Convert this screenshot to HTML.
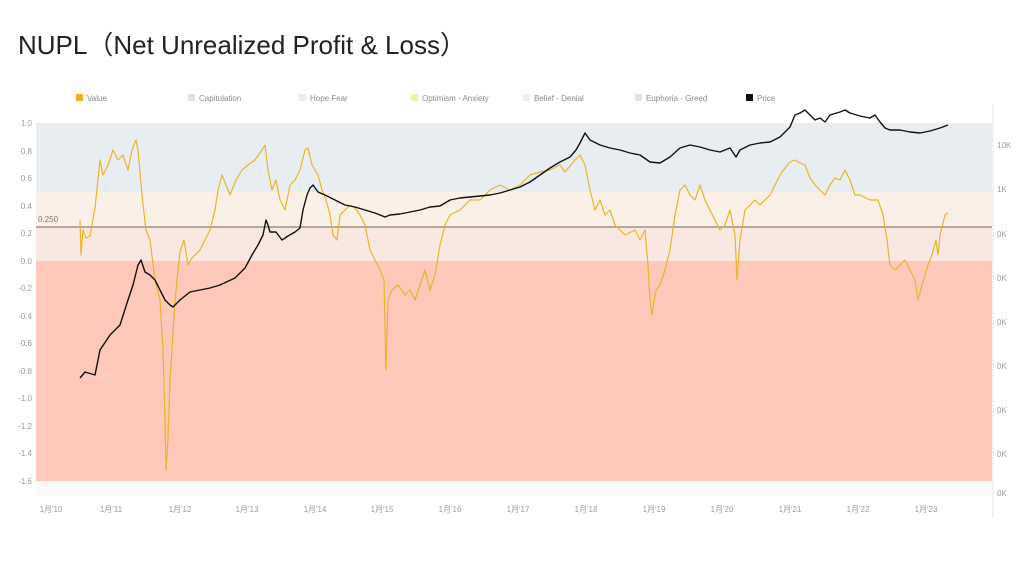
<!DOCTYPE html>
<html><head><meta charset="utf-8"><style>
html,body{margin:0;padding:0;background:#fff;width:1024px;height:576px;overflow:hidden}
</style></head><body>
<svg width="1024" height="576" xmlns="http://www.w3.org/2000/svg" font-family="'Liberation Sans','Noto Sans CJK SC',sans-serif">
<text x="18" y="54" font-size="26" fill="#222" font-family="'Liberation Sans','Noto Sans CJK JP',sans-serif">NUPL（Net Unrealized Profit &amp; Loss）</text>
<!-- legend -->
<g font-size="8" fill="#888">
<rect x="76" y="94" width="7" height="7" fill="#e6b422"/><text x="87" y="101">Value</text>
<rect x="188" y="94" width="7" height="7" fill="#e0e0e0"/><text x="199" y="101">Capitulation</text>
<rect x="299" y="94" width="7" height="7" fill="#ececec"/><text x="310" y="101">Hope Fear</text>
<rect x="411" y="94" width="7" height="7" fill="#f3efa0"/><text x="422" y="101">Optimism - Anxiety</text>
<rect x="523" y="94" width="7" height="7" fill="#eeeeee"/><text x="534" y="101">Belief - Denial</text>
<rect x="635" y="94" width="7" height="7" fill="#e2e2e2"/><text x="646" y="101">Euphoria - Greed</text>
<rect x="746" y="94" width="7" height="7" fill="#111"/><text x="757" y="101">Price</text>
</g>
<!-- bands -->
<rect x="36" y="123" width="956" height="69" fill="#e8edf1"/>
<rect x="36" y="192" width="956" height="35" fill="#fbf0e7"/>
<rect x="36" y="227" width="956" height="34" fill="#f9e8e1"/>
<rect x="36" y="261" width="956" height="220" fill="#fec8ba"/>
<rect x="36" y="481" width="956" height="15" fill="#fdf9fb"/>
<line x1="993" y1="105" x2="993" y2="518" stroke="#e4e4e4"/>
<line x1="36" y1="227" x2="992" y2="227" stroke="#8a7f72" stroke-width="1.3"/>
<text x="38" y="222" font-size="8" fill="#777">0.250</text>
<!-- left axis -->
<g font-size="8" fill="#999" text-anchor="end">
<text x="32" y="126">1.0</text><text x="32" y="154">0.8</text><text x="32" y="181">0.6</text><text x="32" y="209">0.4</text><text x="32" y="236">0.2</text><text x="32" y="264">0.0</text><text x="32" y="291">-0.2</text><text x="32" y="319">-0.4</text><text x="32" y="346">-0.6</text><text x="32" y="374">-0.8</text><text x="32" y="401">-1.0</text><text x="32" y="429">-1.2</text><text x="32" y="456">-1.4</text><text x="32" y="484">-1.6</text>
</g>
<g font-size="8" fill="#999">
<text x="997" y="148">10K</text><text x="997" y="192">1K</text><text x="997" y="237">0K</text><text x="997" y="281">0K</text><text x="997" y="325">0K</text><text x="997" y="369">0K</text><text x="997" y="413">0K</text><text x="997" y="457">0K</text><text x="997" y="496">0K</text>
</g>
<g font-size="8" fill="#999" text-anchor="middle" font-family="'Liberation Sans','Noto Sans CJK SC',sans-serif">
<text x="51" y="512">1月'10</text><text x="111" y="512">1月'11</text><text x="180" y="512">1月'12</text><text x="247" y="512">1月'13</text><text x="315" y="512">1月'14</text><text x="382" y="512">1月'15</text><text x="450" y="512">1月'16</text><text x="518" y="512">1月'17</text><text x="586" y="512">1月'18</text><text x="654" y="512">1月'19</text><text x="722" y="512">1月'20</text><text x="790" y="512">1月'21</text><text x="858" y="512">1月'22</text><text x="926" y="512">1月'23</text>
</g>
<!-- NUPL -->
<polyline fill="none" stroke="#eab52a" stroke-width="1.2" stroke-linejoin="round" points="80,220 81,255 83,230 86,238 90,236 95,208 100,160 103,175 108,165 113,150 118,160 123,155 128,170 132,150 136,140 138,150 142,195 146,230 150,240 155,280 160,300 163,350 165,420 166,470 168,440 170,380 172,350 175,300 178,270 180,252 184,240 188,265 192,258 200,250 210,230 215,210 218,190 222,175 226,185 230,195 236,180 242,170 248,165 255,160 262,150 265,145 268,170 272,190 276,180 280,200 285,210 290,185 295,180 300,170 305,150 308,148 312,165 318,175 322,190 326,200 330,215 333,235 337,240 340,215 345,210 350,205 355,208 360,215 365,225 370,250 375,260 380,270 384,280 386,370 388,300 392,290 398,285 405,295 410,290 415,300 420,285 425,270 430,290 435,275 440,245 445,225 450,215 460,210 470,200 480,200 490,190 500,185 510,190 520,185 530,175 540,172 550,170 560,165 565,172 575,160 580,155 585,165 590,190 595,210 600,200 605,215 610,210 615,225 620,230 625,235 635,230 640,240 645,230 648,265 650,300 652,315 656,290 660,285 665,270 670,250 675,215 680,190 685,185 690,195 695,200 700,185 705,200 710,210 715,220 720,230 725,225 730,210 735,235 737,280 740,240 745,210 750,205 755,200 760,205 765,200 770,195 775,185 780,175 785,168 790,162 795,160 800,163 805,165 810,178 815,185 820,190 825,195 830,185 835,178 840,180 845,170 850,180 855,195 860,195 870,200 878,200 883,215 887,240 890,265 895,270 900,265 905,260 910,270 915,280 918,300 922,285 928,265 932,255 936,240 938,255 940,235 945,215 948,213"/>
<!-- price -->
<polyline fill="none" stroke="#111" stroke-width="1.4" stroke-linejoin="round" points="80,378 85,372 95,375 100,350 110,335 120,325 128,300 133,285 138,265 141,260 145,272 150,275 155,280 160,290 165,300 170,305 173,307 180,300 190,292 200,290 210,288 220,285 235,278 245,268 252,255 258,245 263,235 266,220 268,225 270,232 276,232 282,240 288,236 295,232 300,228 303,210 307,195 310,188 313,185 318,192 325,195 335,200 345,205 355,207 365,210 375,213 385,217 390,215 400,214 410,212 420,210 430,207 440,206 450,200 460,198 470,197 480,196 490,195 500,193 510,190 520,187 530,182 540,175 550,168 560,162 570,157 576,150 580,143 585,133 590,140 600,145 610,148 620,150 630,153 640,155 650,162 660,163 670,157 680,148 690,145 700,147 710,150 720,152 730,148 736,157 740,150 750,145 760,143 770,142 780,137 790,127 795,115 800,113 805,110 810,115 815,120 820,118 825,122 830,115 840,112 845,110 850,113 860,116 870,118 875,115 880,122 885,128 890,130 900,130 910,132 920,133 930,131 940,128 948,125"/>
</svg>
</body></html>
